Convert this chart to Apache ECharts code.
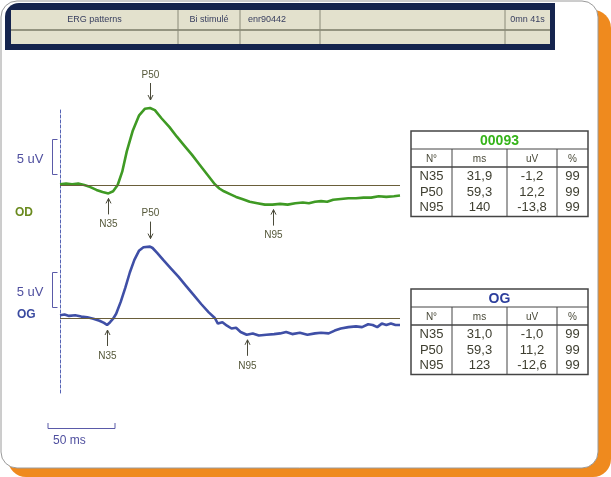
<!DOCTYPE html>
<html>
<head>
<meta charset="utf-8">
<script src="https://cdn.jsdelivr.net/npm/echarts@6/dist/echarts.min.js"></script>
<style>
html, body { margin: 0; padding: 0; background: #fff; }
#chart { width: 611px; height: 477px; }
</style>
</head>
<body>
<div id="chart"></div>
<script>
// tracé OD : temps (ms) / amplitude (uV)
let odTime = [0, 4, 8, 12, 16, 20, 24, 28, 31.9, 35, 38, 41, 44, 48, 52, 56, 59.3, 62.5, 67, 72, 77, 82, 87, 92, 97, 102,
    105, 108, 112, 116, 120, 125, 130, 135, 140, 145, 150, 155, 160, 164, 168, 172, 176, 180, 185, 190, 195, 200, 205,
    210, 215, 220, 224];
let odAmp = [0.1, 0.2, 0.1, 0.2, 0.0, -0.3, -0.7, -1.0, -1.2, -0.9, 0.0, 1.9, 4.8, 7.8, 9.9, 10.9, 11.0, 10.7, 9.5, 8.3,
    6.9, 5.6, 4.3, 2.9, 1.5, 0.1, -0.5, -0.9, -1.3, -1.7, -2.0, -2.4, -2.6, -2.8, -2.8, -2.7, -2.8, -2.6, -2.5, -2.6,
    -2.4, -2.3, -2.4, -2.1, -2.0, -1.9, -1.9, -1.8, -1.8, -1.6, -1.7, -1.6, -1.5];

// tracé OG
let ogTime = [0, 3, 6, 10, 14, 18, 22, 26, 29, 31, 33, 35, 37, 40, 43, 46, 49, 52, 55, 59.3, 61, 64, 68, 73, 78, 83, 88,
    93, 98, 102, 104, 107, 110, 113, 116, 119, 123, 127, 131, 136, 141, 145, 149, 153, 158, 163, 168, 172, 177, 181,
    185, 190, 195, 199, 203, 206, 209, 212, 215, 218, 221, 224];
let ogAmp = [0.4, 0.5, 0.3, 0.4, 0.2, 0.1, -0.1, -0.4, -0.7, -1.0, -0.6, -0.1, 0.6, 2.3, 4.3, 6.5, 8.3, 9.6, 10.1, 10.2,
    10.0, 9.3, 8.3, 7.1, 5.9, 4.6, 3.3, 2.0, 0.8, 0.0, -0.8, -0.6, -1.1, -1.5, -1.4, -2.0, -2.4, -2.2, -2.5, -2.4, -2.3,
    -2.2, -2.0, -2.3, -2.1, -2.4, -2.2, -2.1, -2.2, -1.8, -1.5, -1.3, -1.2, -1.3, -0.9, -1.0, -1.3, -0.8, -1.0, -0.8,
    -1.0, -1.0];

// repères N35 / P50 / N95 [ms, uV]
let peakNames = ['N35', 'P50', 'N95'];
let odPeaks = [[31.9, -1.2], [59.3, 11.0], [140, -2.8]];
let ogPeaks = [[31.0, -1.0], [59.3, 10.2], [123, -2.4]];

// échelle d'amplitude : 5 uV
let scaleUv = [1.5, 6.5];

// tableaux de mesures
let tableCols = ['N°', 'ms', 'uV', '%'];
let odTitle = '00093';
let odMs = ['31,9', '59,3', '140'];
let odUv = ['-1,2', '12,2', '-13,8'];
let odPct = ['99', '99', '99'];
let ogTitle = 'OG';
let ogMs = ['31,0', '59,3', '123'];
let ogUv = ['-1,0', '11,2', '-12,6'];
let ogPct = ['99', '99', '99'];

// bandeau
let headerCells = ['ERG patterns', 'Bi stimulé', 'enr90442', '', '0mn 41s'];

let font = "'Liberation Sans', Arial, sans-serif";
let odColor = '#3f9a24';
let ogColor = '#3f4fa6';
let baseColor = '#6a5e3a';
let markColor = '#4a4a3a';

function zip(a, b) {
    return a.map((v, i) => [v, b[i]]);
}

// flèches + libellés des pics
function renderMark(params, api) {
    let p = api.coord([api.value(0), api.value(1)]);
    let name = peakNames[params.dataIndex];
    let up = name !== 'P50';
    let x = Math.round(p[0]) + 0.5;
    let tip = up ? p[1] + 5 : p[1] - 8;
    let tail = up ? p[1] + 21 : p[1] - 25;
    let ty = up ? p[1] + 31 : p[1] - 33;
    let d = up ? 5 : -5;
    return {
        type: 'group',
        children: [
            { type: 'line', shape: { x1: x, y1: tail, x2: x, y2: tip }, style: { stroke: markColor, lineWidth: 1 } },
            { type: 'polyline', shape: { points: [[x - 2.5, tip + d], [x, tip], [x + 2.5, tip + d]] },
                style: { stroke: markColor, fill: null, lineWidth: 1 } },
            { type: 'text', style: { text: name, x: x, y: ty, align: 'center', verticalAlign: 'middle',
                font: '10px ' + font, fill: '#55583a' } }
        ]
    };
}

// crochet 5 uV
function renderScale(params, api) {
    let a = api.coord([0, api.value(0)]);
    let b = api.coord([0, api.value(1)]);
    let r = a[0] - 2.5;
    let l = r - 5;
    return {
        type: 'group',
        children: [
            { type: 'polyline', shape: { points: [[r, b[1]], [l, b[1]], [l, a[1]], [r, a[1]]] },
                style: { stroke: '#5a5aa8', fill: null, lineWidth: 1 } },
            { type: 'text', style: { text: '5 uV', x: l - 9, y: (a[1] + b[1]) / 2 + 2, align: 'right',
                verticalAlign: 'middle', font: '13px ' + font, fill: '#4f4f9f' } }
        ]
    };
}

function panelSeries(idx, time, amp, peaks, color) {
    return [
        {
            type: 'line',
            xAxisIndex: idx,
            yAxisIndex: idx,
            data: zip(time, amp),
            showSymbol: false,
            lineStyle: { color: color, width: 2.6 },
            z: 3,
            markLine: {
                silent: true,
                symbol: 'none',
                label: { show: false },
                lineStyle: { color: baseColor, width: 1, type: 'solid' },
                data: [{ yAxis: 0 }]
            }
        },
        {
            type: 'custom',
            xAxisIndex: idx,
            yAxisIndex: idx,
            data: peaks,
            renderItem: renderMark,
            z: 4
        },
        {
            type: 'custom',
            xAxisIndex: idx,
            yAxisIndex: idx,
            data: [scaleUv],
            renderItem: renderScale,
            z: 4
        }
    ];
}

function buildTable(top, title, titleColor, ms, uv, pct) {
    let xs = [411, 452, 507, 557, 588];
    let titleH = 18, headH = 18, rowH = 15.5;
    let hTop = top + titleH;
    let dTop = hTop + headH;
    let bottom = dTop + rowH * 3 + 3;
    let items = [];
    let stroke = '#444';
    items.push({ type: 'rect', shape: { x: xs[0], y: top, width: xs[4] - xs[0], height: bottom - top },
        style: { fill: '#fff', stroke: stroke, lineWidth: 1.5 } });
    items.push({ type: 'line', shape: { x1: xs[0], y1: hTop, x2: xs[4], y2: hTop }, style: { stroke: stroke, lineWidth: 1 } });
    items.push({ type: 'line', shape: { x1: xs[0], y1: dTop, x2: xs[4], y2: dTop }, style: { stroke: stroke, lineWidth: 1.5 } });
    for (let i = 1; i < 4; i++) {
        items.push({ type: 'line', shape: { x1: xs[i], y1: hTop, x2: xs[i], y2: bottom }, style: { stroke: stroke, lineWidth: 1 } });
    }
    items.push({ type: 'text', style: { text: title, x: (xs[0] + xs[4]) / 2, y: top + titleH / 2 + 1, align: 'center',
        verticalAlign: 'middle', font: 'bold 14px ' + font, fill: titleColor } });
    tableCols.forEach((c, i) => {
        items.push({ type: 'text', style: { text: c, x: (xs[i] + xs[i + 1]) / 2, y: hTop + headH / 2 + 1, align: 'center',
            verticalAlign: 'middle', font: '10px ' + font, fill: '#4a4a3a' } });
    });
    for (let r = 0; r < 3; r++) {
        let cells = [peakNames[r], ms[r], uv[r], pct[r]];
        cells.forEach((c, i) => {
            items.push({ type: 'text', style: { text: c, x: (xs[i] + xs[i + 1]) / 2, y: dTop + rowH * r + rowH / 2 + 2,
                align: 'center', verticalAlign: 'middle', font: '13px ' + font, fill: '#3e3e30' } });
        });
    }
    return items;
}

function buildHeader() {
    let divs = [178, 240, 320, 505, 550];
    let items = [];
    items.push({ type: 'rect', shape: { x: 5, y: 3, width: 550, height: 47, r: [14, 0, 0, 0] }, style: { fill: '#15244e' } });
    items.push({ type: 'rect', shape: { x: 11, y: 10, width: 539, height: 34 }, style: { fill: '#e3e1cd' } });
    items.push({ type: 'line', shape: { x1: 11, y1: 30, x2: 550, y2: 30 }, style: { stroke: '#7a7a66', lineWidth: 1.5 } });
    let prev = 11;
    headerCells.forEach((c, i) => {
        let x2 = divs[i];
        if (i < 4) {
            items.push({ type: 'line', shape: { x1: x2, y1: 10, x2: x2, y2: 44 }, style: { stroke: '#8a8a78', lineWidth: 1 } });
        }
        items.push({ type: 'text', style: { text: c, x: i === 2 ? prev + 8 : (prev + x2) / 2, y: 20,
            align: i === 2 ? 'left' : 'center', verticalAlign: 'middle', font: '9px ' + font, fill: '#3a4060' } });
        prev = x2;
    });
    return items;
}

let chart = echarts.init(document.getElementById('chart'));

let option = {
    animation: false,
    backgroundColor: '#fff',
    grid: [
        { left: 60, top: 101, width: 340, height: 154 },
        { left: 60, top: 234, width: 340, height: 154 },
        { left: 60, top: 110, width: 340, height: 283 }
    ],
    xAxis: [
        { type: 'value', gridIndex: 0, min: 0, max: 224, show: false },
        { type: 'value', gridIndex: 1, min: 0, max: 224, show: false },
        { type: 'value', gridIndex: 2, min: 0, max: 224, show: false }
    ],
    yAxis: [
        { type: 'value', gridIndex: 0, min: -10, max: 12, show: false },
        { type: 'value', gridIndex: 1, min: -10, max: 12, show: false },
        {
            type: 'value', gridIndex: 2, min: 0, max: 1,
            axisLine: { show: true, lineStyle: { color: '#5563b5', width: 1, type: [3, 2] } },
            axisTick: { show: false },
            axisLabel: { show: false },
            splitLine: { show: false }
        }
    ],
    series: [].concat(
        panelSeries(0, odTime, odAmp, odPeaks, odColor),
        panelSeries(1, ogTime, ogAmp, ogPeaks, ogColor)
    ),
    graphic: [
        // carte + ombre orange
        { type: 'rect', z: -10, shape: { x: 8, y: 10, width: 603, height: 467, r: 18 }, style: { fill: '#ef8a1e' } },
        { type: 'rect', z: -9, shape: { x: 1, y: 1, width: 597, height: 467, r: 16 },
            style: { fill: '#fff', stroke: '#9a9a9a', lineWidth: 1 } },
        { type: 'group', z: 5, children: buildHeader() },
        { type: 'group', z: 5, children: buildTable(131, odTitle, '#36b41a', odMs, odUv, odPct) },
        { type: 'group', z: 5, children: buildTable(289, ogTitle, '#2b3d9c', ogMs, ogUv, ogPct) },
        // libellés des yeux
        { type: 'text', z: 5, style: { text: 'OD', x: 15, y: 213, verticalAlign: 'middle', font: 'bold 12px ' + font, fill: '#6a8a1e' } },
        { type: 'text', z: 5, style: { text: 'OG', x: 17, y: 315, verticalAlign: 'middle', font: 'bold 12px ' + font, fill: '#3a4aa0' } },
        // échelle de temps 50 ms
        { type: 'polyline', z: 5, shape: { points: [[48, 423], [48, 428.5], [115, 428.5], [115, 423]] },
            style: { stroke: '#5a5aa8', fill: null, lineWidth: 1 } },
        { type: 'text', z: 5, style: { text: '50 ms', x: 53, y: 441, verticalAlign: 'middle', font: '12px ' + font, fill: '#4f4f9f' } }
    ]
};

chart.setOption(option);
</script>
</body>
</html>
